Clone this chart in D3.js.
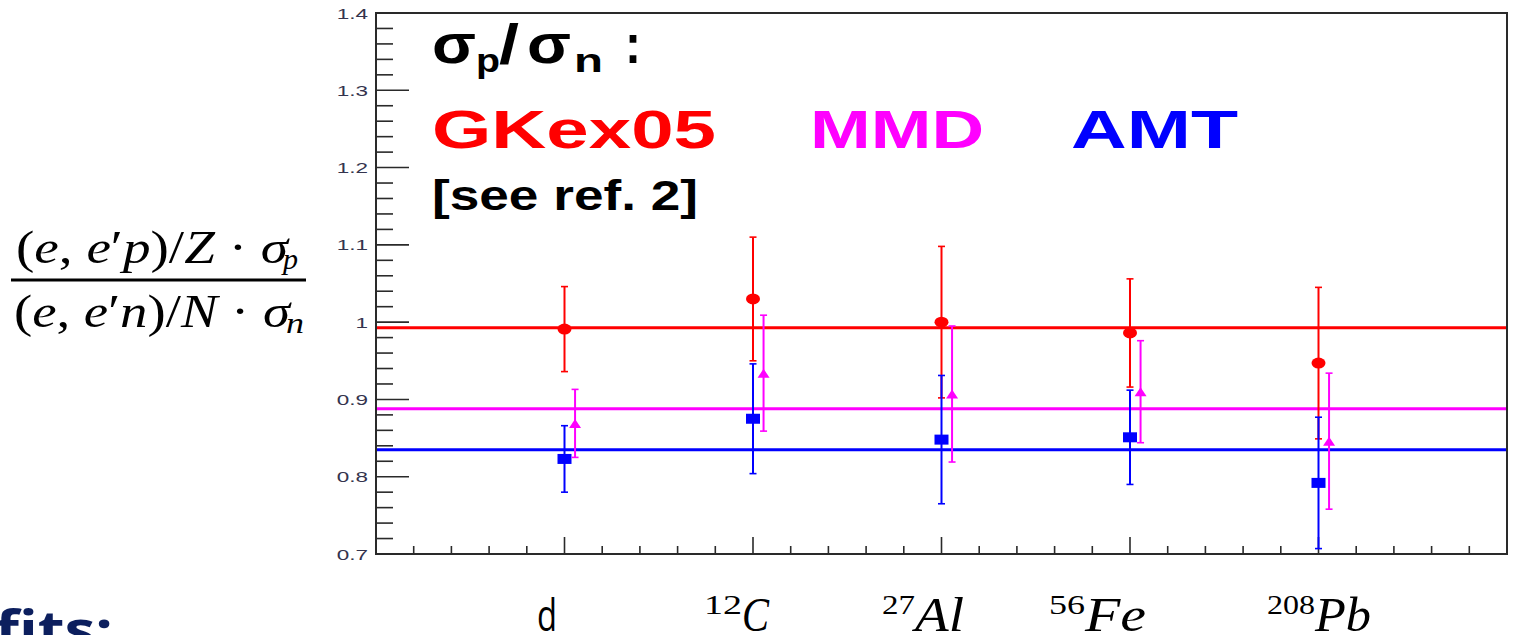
<!DOCTYPE html>
<html>
<head>
<meta charset="utf-8">
<script src="https://cdn.jsdelivr.net/npm/d3@7"></script>
<style>
  html, body { margin: 0; padding: 0; background: #fff; }
  svg { display: block; }
</style>
</head>
<body>
<svg id="chart" width="1513" height="635"></svg>
<script>
// Nuclei (mass number + symbol) along the x axis
const massNumbers = ["", "12", "27", "56", "208"];
const symbols = ["d", "C", "Al", "Fe", "Pb"];

// σp/σn ratios for each prescription, with symmetric errors
const gkex05 = [0.991, 1.030, 1.000, 0.986, 0.947];
const gkex05Err = [0.055, 0.080, 0.098, 0.070, 0.098];
const mmd = [0.869, 0.934, 0.907, 0.910, 0.846];
const mmdErr = [0.044, 0.075, 0.088, 0.066, 0.088];
const amt = [0.823, 0.875, 0.848, 0.851, 0.792];
const amtErr = [0.043, 0.071, 0.083, 0.061, 0.085];

// Constant fits to each series
const fitValues = [0.9927, 0.888, 0.835];

// Axis ticks
const yTickLabels = ["0.7", "0.8", "0.9", "1", "1.1", "1.2", "1.3", "1.4"];

const svg = d3.select("#chart");
const W = 1513, H = 635;
svg.append("rect").attr("width", W).attr("height", H).attr("fill", "#fff");

const frame = { left: 376, right: 1507, top: 13, bottom: 554 };
const x = d3.scaleLinear().domain([0, 6]).range([frame.left, frame.right]);
const y = d3.scaleLinear().domain([0.7, 1.4]).range([frame.bottom, frame.top]);

const RED = "#ff0000", MAGENTA = "#ff00ff", BLUE = "#0000ff";
const axisColor = "#2a2a2a";

// ---- frame ----
svg.append("rect")
  .attr("x", frame.left).attr("y", frame.top)
  .attr("width", frame.right - frame.left).attr("height", frame.bottom - frame.top)
  .attr("fill", "none").attr("stroke", axisColor).attr("stroke-width", 2);

// ---- y axis ticks (inward) ----
const yMinor = d3.range(0, 36).map(i => 0.7 + i * 0.02);
svg.append("g").selectAll("line").data(yMinor).join("line")
  .attr("x1", frame.left).attr("x2", (d, i) => frame.left + (i % 5 === 0 ? 33 : 17))
  .attr("y1", d => y(d)).attr("y2", d => y(d))
  .attr("stroke", axisColor).attr("stroke-width", 1.6);

svg.append("g").selectAll("text").data(yTickLabels).join("text")
  .attr("transform", d => `translate(${frame.left - 8},${y(+d) + 5.5}) scale(1.5,1)`)
  .attr("text-anchor", "end")
  .attr("font-family", "Liberation Sans, Arial, sans-serif")
  .attr("font-size", 15)
  .attr("fill", "#34344e")
  .text(d => d);

// ---- x axis ticks (inward) ----
const xMinor = d3.range(1, 30).map(i => i * 0.2);
svg.append("g").selectAll("line").data(xMinor).join("line")
  .attr("x1", d => x(d)).attr("x2", d => x(d))
  .attr("y1", frame.bottom)
  .attr("y2", (d, i) => frame.bottom - ((i + 1) % 5 === 0 ? 17 : 8))
  .attr("stroke", axisColor).attr("stroke-width", 1.6);

// ---- fit lines ----
const fitColors = [RED, MAGENTA, BLUE];
svg.append("g").selectAll("line").data(fitValues).join("line")
  .attr("x1", frame.left + 1).attr("x2", frame.right - 1)
  .attr("y1", d => y(d)).attr("y2", d => y(d))
  .attr("stroke", (d, i) => fitColors[i]).attr("stroke-width", 3);

// ---- data series ----
const series = [
  { vals: gkex05, errs: gkex05Err, color: RED, shift: 0, marker: "circle" },
  { vals: amt, errs: amtErr, color: BLUE, shift: 0, marker: "square" },
  { vals: mmd, errs: mmdErr, color: MAGENTA, shift: 0.056, marker: "triangle" }
];

series.forEach(s => {
  const g = svg.append("g");
  const pts = s.vals.map((v, i) => ({ cx: x(i + 1 + s.shift), v, e: s.errs[i] }));
  // error bars
  g.selectAll("line.bar").data(pts).join("line").attr("class", "bar")
    .attr("x1", d => d.cx).attr("x2", d => d.cx)
    .attr("y1", d => y(d.v + d.e)).attr("y2", d => y(d.v - d.e))
    .attr("stroke", s.color).attr("stroke-width", 2);
  g.selectAll("line.capTop").data(pts).join("line").attr("class", "capTop")
    .attr("x1", d => d.cx - 3.5).attr("x2", d => d.cx + 3.5)
    .attr("y1", d => y(d.v + d.e)).attr("y2", d => y(d.v + d.e))
    .attr("stroke", s.color).attr("stroke-width", 1.6);
  g.selectAll("line.capBot").data(pts).join("line").attr("class", "capBot")
    .attr("x1", d => d.cx - 3.5).attr("x2", d => d.cx + 3.5)
    .attr("y1", d => y(d.v - d.e)).attr("y2", d => y(d.v - d.e))
    .attr("stroke", s.color).attr("stroke-width", 1.6);
  // markers
  if (s.marker === "circle") {
    g.selectAll("ellipse").data(pts).join("ellipse")
      .attr("cx", d => d.cx).attr("cy", d => y(d.v))
      .attr("rx", 7).attr("ry", 5.5).attr("fill", s.color);
  } else if (s.marker === "square") {
    g.selectAll("rect").data(pts).join("rect")
      .attr("x", d => d.cx - 7).attr("y", d => y(d.v) - 5)
      .attr("width", 14).attr("height", 10).attr("fill", s.color);
  } else {
    g.selectAll("path").data(pts).join("path")
      .attr("d", d => {
        const cy = y(d.v);
        return `M${d.cx - 6},${cy + 4.5}L${d.cx + 6},${cy + 4.5}L${d.cx},${cy - 4.5}Z`;
      })
      .attr("fill", s.color);
  }
});

// ---- legend text inside the frame ----
const sans = "Liberation Sans, Arial, sans-serif";
function piece(txt, px, py, size, len, color, weight) {
  svg.append("text")
    .attr("x", px).attr("y", py)
    .attr("font-family", sans).attr("font-weight", weight || "bold")
    .attr("font-size", size).attr("fill", color || "#000")
    .attr("textLength", len).attr("lengthAdjust", "spacingAndGlyphs")
    .text(txt);
}
piece("σ", 432, 63, 56, 44);
piece("p", 476, 72, 34, 24);
piece("/", 499, 63, 56, 20);
piece("σ", 527, 63, 56, 44);
piece("n", 574, 72, 34, 29);
piece(":", 625, 63, 56, 16);

const legendNames = ["GKex05", "MMD", "AMT"];
const legendX = [432, 810, 1071];
const legendLen = [284, 174, 167];
legendNames.forEach((n, i) => piece(n, legendX[i], 148, 53, legendLen[i], fitColors[i]));

piece("[see ref. 2]", 432, 210, 43, 266);

// ---- x category labels ----
const serif = "Liberation Serif, Times New Roman, serif";
const labelLayout = [
  { sup: [0, 0], main: [537, 20], upright: true },
  { sup: [704, 38], main: [742, 27] },
  { sup: [882, 33], main: [915, 49] },
  { sup: [1049, 36], main: [1085, 61] },
  { sup: [1267, 48], main: [1315, 56] }
];
symbols.forEach((sym, i) => {
  const L = labelLayout[i];
  if (massNumbers[i]) {
    svg.append("text")
      .attr("x", L.sup[0]).attr("y", 614)
      .attr("font-family", serif).attr("font-size", 27).attr("fill", "#000")
      .attr("textLength", L.sup[1]).attr("lengthAdjust", "spacingAndGlyphs")
      .text(massNumbers[i]);
  }
  svg.append("text")
    .attr("x", L.main[0]).attr("y", 631)
    .attr("font-family", L.upright ? "Open Sans, Noto Sans, sans-serif" : serif)
    .attr("font-style", L.upright ? "normal" : "italic")
    .attr("font-size", L.upright ? 44 : 48).attr("fill", "#000")
    .attr("textLength", L.main[1]).attr("lengthAdjust", "spacingAndGlyphs")
    .text(sym);
});

// ---- y axis title: fraction ----
function mathText(parts, px, py, size, len) {
  const t = svg.append("text")
    .attr("x", px).attr("y", py)
    .attr("font-family", serif).attr("font-size", size).attr("fill", "#000")
    .attr("textLength", len).attr("lengthAdjust", "spacingAndGlyphs");
  parts.forEach(p => t.append("tspan").attr("font-style", p[1] ? "italic" : "normal").text(p[0]));
}
mathText([["(", 0], ["e", 1], [", ", 0], ["e", 1], ["′", 0], ["p", 1], [")/", 0], ["Z", 1], [" · ", 0], ["σ", 1]],
  16, 263, 46, 272);
mathText([["p", 1]], 283, 269, 30, 15);
svg.append("rect").attr("x", 11).attr("y", 278.5).attr("width", 295).attr("height", 3).attr("fill", "#000");
mathText([["(", 0], ["e", 1], [", ", 0], ["e", 1], ["′", 0], ["n", 1], [")/", 0], ["N", 1], [" · ", 0], ["σ", 1]],
  14, 327, 46, 276);
mathText([["n", 1]], 286, 333, 30, 18);

// ---- cropped caption at lower left ----
svg.append("text")
  .attr("x", -5).attr("y", 648)
  .attr("font-family", "Open Sans, Noto Sans, sans-serif").attr("font-weight", "bold")
  .attr("font-size", 52).attr("fill", "#0c1f5e")
  .attr("textLength", 118).attr("lengthAdjust", "spacingAndGlyphs")
  .text("fits:");
</script>
</body>
</html>
